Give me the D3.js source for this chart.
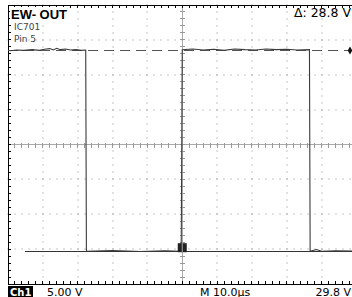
<!DOCTYPE html>
<html>
<head>
<meta charset="utf-8">
<script src="https://cdnjs.cloudflare.com/ajax/libs/d3/7.8.5/d3.min.js"></script>
<style>
  body { margin: 0; background: #fff; }
  svg { display: block; }
  text { font-family: "DejaVu Sans", sans-serif; }
</style>
</head>
<body>
<script>
// trace: time in microseconds, level in volts
var traceTime = [-49.4, -47.5, -45.5, -43.0, -41.0, -39.5, -38.0, -37.0, -36.0, -35.0, -33.5, -32.0, -30.5, -29.0, -27.7,
                 -27.5, -20.0, -12.0, -5.0, -0.3,
                 0.0, 3.0, 6.0, 9.0, 12.0, 15.0, 18.0, 21.0, 24.0, 27.0, 30.0, 33.0, 36.5,
                 36.7, 38.5, 40.0, 44.0, 50.0];
var traceVolts = [13.45, 13.55, 13.5, 13.6, 13.5, 13.65, 13.75, 13.55, 13.8, 13.6, 13.7, 13.55, 13.6, 13.5, 13.55,
                  -15.3, -15.2, -15.35, -15.25, -15.3,
                  13.6, 13.7, 13.55, 13.65, 13.5, 13.7, 13.6, 13.55, 13.7, 13.6, 13.65, 13.55, 13.6,
                  -15.3, -15.05, -15.3, -15.25, -15.3];

// bar cursors
var cursorHigh = 13.6, cursorLow = -15.2;

// screen labels
var title = "EW- OUT";
var subLabels = ["IC701", "Pin 5"];
var deltaLabel = "\u0394: 28.8 V";
var chLabel = "Ch1", voltsDiv = "5.00 V", timeDiv = "M 10.0\u00b5s", trigLevel = "29.8 V";

var W = 352, H = 297;
var svg = d3.select("body").append("svg").attr("width", W).attr("height", H);

var x = d3.scaleLinear().domain([-50, 50]).range([8, 356.5]);
var y = d3.scaleLinear().domain([-20, 20]).range([284, 5]);

var majX = d3.range(-50, 50.01, 10), majY = d3.range(-20, 20.01, 5);
var minX = d3.range(-50, 50.01, 2), minY = d3.range(-20, 20.01, 1);

// dotted graticule
var dots = [];
majX.forEach(function(t) { if (t > -50 && t !== 0) minY.forEach(function(v) { dots.push([t, v]); }); });
majY.forEach(function(v) { if (v > -20 && v < 20 && v !== 0) minX.forEach(function(t) { dots.push([t, v]); }); });
svg.append("g").selectAll("rect").data(dots).enter().append("rect")
  .attr("x", function(d) { return Math.round(x(d[0])) - 0.5; })
  .attr("y", function(d) { return Math.round(y(d[1])) - 0.5; })
  .attr("width", 1).attr("height", 1).attr("fill", "#8a8a8a");

// center axes
var g = svg.append("g").attr("stroke", "#999").attr("shape-rendering", "crispEdges");
g.append("line").attr("x1", x(-50)).attr("x2", x(50)).attr("y1", y(0)).attr("y2", y(0)).attr("stroke", "#aaa");
g.append("line").attr("x1", x(0)).attr("x2", x(0)).attr("y1", y(20)).attr("y2", y(-20)).attr("stroke", "#aaa");
g.selectAll(".tx").data(minX).enter().append("line")
  .attr("x1", function(d) { return x(d); }).attr("x2", function(d) { return x(d); })
  .attr("y1", y(0) - 2).attr("y2", y(0) + 3);
g.selectAll(".ty").data(minY).enter().append("line")
  .attr("y1", function(d) { return y(d); }).attr("y2", function(d) { return y(d); })
  .attr("x1", x(0) - 2).attr("x2", x(0) + 3);

// frame with ticks
var f = svg.append("g").attr("stroke", "#000").attr("shape-rendering", "crispEdges");
f.append("path").attr("fill", "none")
  .attr("d", "M" + x(50) + "," + y(20) + "H" + x(-50) + "V" + y(-20) + "H" + x(50));
f.selectAll(".tt").data(minX).enter().append("line")
  .attr("x1", function(d) { return x(d); }).attr("x2", function(d) { return x(d); })
  .attr("y1", y(20)).attr("y2", y(20) + 3);
f.selectAll(".tb").data(minX).enter().append("line")
  .attr("x1", function(d) { return x(d); }).attr("x2", function(d) { return x(d); })
  .attr("y1", y(-20)).attr("y2", y(-20) - 3);
f.selectAll(".tl").data(minY).enter().append("line")
  .attr("y1", function(d) { return y(d); }).attr("y2", function(d) { return y(d); })
  .attr("x1", x(-50)).attr("x2", x(-50) + 3);

// cursors
svg.append("line").attr("x1", x(-50)).attr("x2", x(50))
  .attr("y1", Math.round(y(cursorHigh)) + 0.5).attr("y2", Math.round(y(cursorHigh)) + 0.5)
  .attr("stroke", "#555").attr("stroke-dasharray", "10,6");
svg.append("line").attr("x1", 25).attr("x2", x(50))
  .attr("y1", Math.round(y(cursorLow)) + 0.5).attr("y2", Math.round(y(cursorLow)) + 0.5)
  .attr("stroke", "#333");
svg.append("path")
  .attr("d", d3.symbol(d3.symbolDiamond, 18)())
  .attr("transform", "translate(350," + (Math.round(y(cursorHigh)) + 0.5) + ")")
  .attr("fill", "#111");

// waveform
var line = d3.line()
  .x(function(d) { return x(d[0]); })
  .y(function(d) { return y(d[1]); });
svg.append("path").datum(d3.zip(traceTime, traceVolts))
  .attr("d", line).attr("fill", "none").attr("stroke", "#3a3a3a").attr("stroke-width", 1.1);

// bright spot at rising edge foot
svg.append("rect").attr("x", x(0) - 4.5).attr("y", y(-15.3) - 8).attr("width", 9).attr("height", 9).attr("fill", "#222");
svg.append("line").attr("x1", x(0)).attr("x2", x(0)).attr("y1", y(-15.3) - 8).attr("y2", y(-15.3) + 1)
  .attr("stroke", "#aaa");

// labels
svg.append("rect").attr("x", 10).attr("y", 7).attr("width", 55).attr("height", 14).attr("fill", "#fff");
svg.append("text").attr("x", 11).attr("y", 19).text(title)
  .style("font-family", "Liberation Sans, Arial, sans-serif").style("font-weight", "bold").style("font-size", "13px");
svg.selectAll(".sub").data(subLabels).enter().append("text")
  .attr("x", 14).attr("y", function(d, i) { return 30 + i * 12; })
  .style("font-size", "9px").attr("fill", "#444").text(function(d) { return d; });
svg.append("text").attr("x", 351).attr("y", 17).attr("text-anchor", "end")
  .style("font-size", "12.5px").text(deltaLabel);

svg.append("rect").attr("x", 8).attr("y", 286).attr("width", 25).attr("height", 11).attr("fill", "#000");
svg.append("text").attr("x", 10).attr("y", 295.5).attr("fill", "#fff")
  .style("font-size", "10px").style("font-weight", "bold").text(chLabel);
svg.append("text").attr("x", 47).attr("y", 295.5).style("font-size", "11px").text(voltsDiv);
svg.append("text").attr("x", 200).attr("y", 295.5).style("font-size", "11px").text(timeDiv);
svg.append("text").attr("x", 351).attr("y", 295.5).attr("text-anchor", "end").style("font-size", "11px").text(trigLevel);
</script>
</body>
</html>
